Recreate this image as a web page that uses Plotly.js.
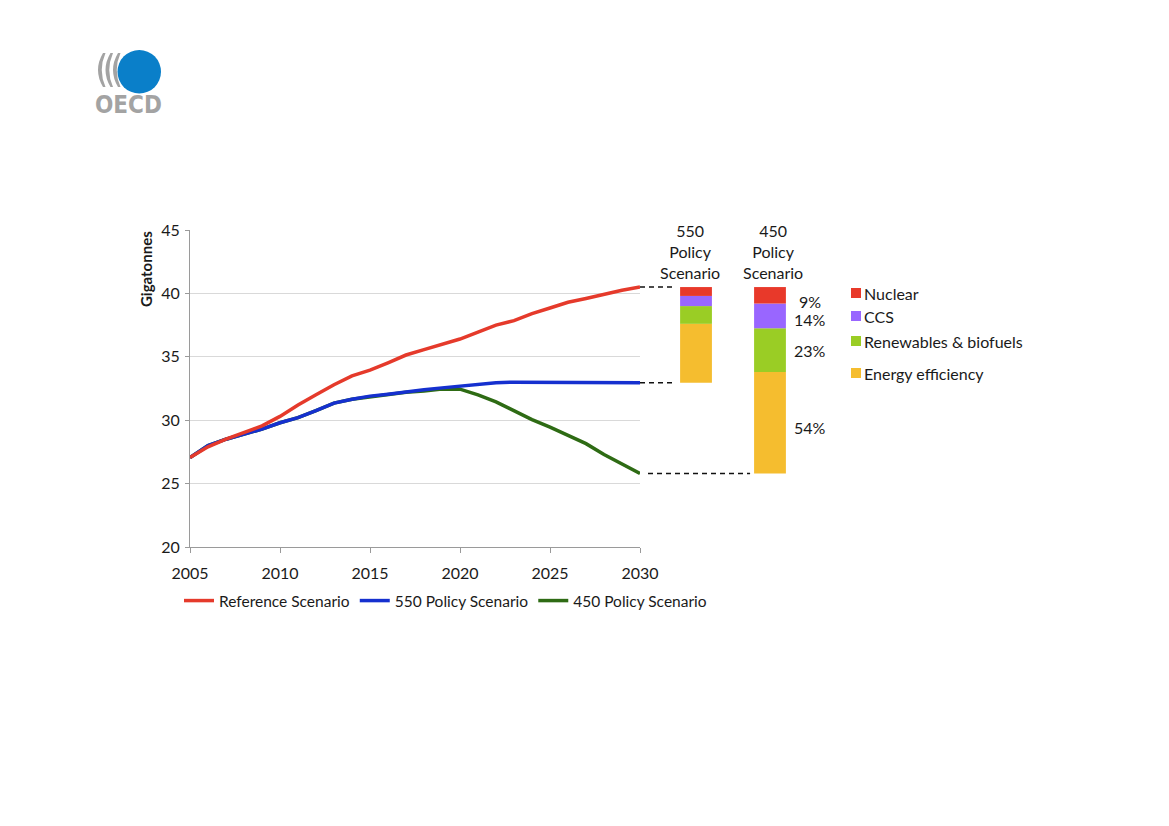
<!DOCTYPE html>
<html>
<head>
<meta charset="utf-8">
<script src="https://cdn.plot.ly/plotly-3.0.1.min.js"></script>
<style>
  html, body { margin: 0; padding: 0; background: #ffffff; }
  #chart { width: 1169px; height: 826px; }
</style>
</head>
<body>
<div id="chart"></div>
<script>
// ---------------- data ----------------
const years = [2005, 2006, 2007, 2008, 2009, 2010, 2011, 2012, 2013, 2014, 2015, 2016, 2017,
               2018, 2019, 2020, 2021, 2022, 2023, 2024, 2025, 2026, 2027, 2028, 2029, 2030];
const referenceScenario = [27.05, 27.9, 28.5, 29.0, 29.55, 30.3, 31.2, 32.0, 32.8, 33.5, 33.95, 34.53, 35.14,
                           35.57, 35.99, 36.4, 36.95, 37.5, 37.85, 38.4, 38.85, 39.3, 39.6, 39.95, 40.25, 40.5];
const policy550 = [27.05, 28.0, 28.5, 28.9, 29.3, 29.8, 30.2, 30.75, 31.35, 31.65, 31.9, 32.05, 32.25,
                   32.4, 32.55, 32.7, 32.8, 32.95, 33.0, 33.0, 33.0, 33.0, 32.95, 32.95, 32.95, 32.95];
const policy450 = [27.05, 28.0, 28.5, 28.9, 29.3, 29.8, 30.2, 30.75, 31.35, 31.65, 31.85, 32.0, 32.2,
                   32.3, 32.45, 32.45, 32.0, 31.45, 30.75, 30.05, 29.45, 28.8, 28.15, 27.3, 26.55, 25.8];
const lineNames = ["Reference Scenario", "550 Policy Scenario", "450 Policy Scenario"];

const barCategories = ["550 Policy Scenario", "450 Policy Scenario"];
const barHeaders = ["550<br>Policy<br>Scenario", "450<br>Policy<br>Scenario"];
const componentNames = ["Energy efficiency", "Renewables & biofuels", "CCS", "Nuclear"];
const energyEfficiency = [4.65, 8.0];
const renewables = [1.4, 3.45];
const ccs = [0.8, 1.95];
const nuclear = [0.7, 1.3];
const sharesOf450 = ["54%", "23%", "14%", "9%"];
const yTicks = [20, 25, 30, 35, 40, 45];
const xTicks = [2005, 2010, 2015, 2020, 2025, 2030];

// ---------------- styles ----------------
const FONT = "Lato, 'Open Sans', sans-serif";
const FS = 16;
const TXT = "#1a1a1a";
const lineColors = ["#e53a2b", "#1530cf", "#2e6b14"];
const compColors = ["#f5bd2f", "#9acd25", "#9966ff", "#e8392a"];

const W = 1169, H = 826;
const M = {l: 190, r: 339, t: 230, b: 279};
const PW = W - M.l - M.r, PH = H - M.t - M.b;
const fx = px => (px - M.l) / PW;
const fy = py => (H - M.b - py) / PH;
const mainEnd = fx(640);

// ---------------- traces ----------------
const traces = [];
// draw green, blue, red (red on top); legend reversed
[[policy450, 2], [policy550, 1], [referenceScenario, 0]].forEach(([vals, i]) => {
  traces.push({
    type: "scatter", mode: "lines", x: years, y: vals, name: lineNames[i],
    line: {color: lineColors[i], width: 3.5, shape: "linear"},
    xaxis: "x", yaxis: "y", hoverinfo: "x+y+name"
  });
});

const components = [energyEfficiency, renewables, ccs, nuclear];
const bases = [policy550[policy550.length - 1], policy450[policy450.length - 1]];
const cum = bases.slice();
const segMid = [[], []];
components.forEach((vals, k) => {
  const base = cum.slice();
  traces.push({
    type: "bar", x: barCategories, y: vals, base: base, name: componentNames[k],
    marker: {color: compColors[k], line: {width: 0}}, width: 0.43,
    xaxis: "x2", yaxis: "y2", showlegend: false, hoverinfo: "y+name"
  });
  for (let j = 0; j < 2; j++) { segMid[j].push(base[j] + vals[j] / 2); cum[j] += vals[j]; }
});

// ---------------- layout ----------------
const catRange = [-0.757, 1.811];
const catToPaper = c => mainEnd + (c - catRange[0]) / (catRange[1] - catRange[0]) * (1 - mainEnd);
const barHalf = 0.43 / 2;

const shapes = [];
const annotations = [];

// dashed connectors
const last = years.length - 1;
const dashStyle = {color: "#111", width: 1.6, dash: "5px,4px"};
shapes.push({type: "line", xref: "paper", yref: "y", x0: mainEnd, x1: catToPaper(0 - barHalf) - 5 / PW,
  y0: referenceScenario[last], y1: referenceScenario[last], line: dashStyle});
shapes.push({type: "line", xref: "paper", yref: "y", x0: mainEnd, x1: catToPaper(0 - barHalf) - 5 / PW,
  y0: policy550[last], y1: policy550[last], line: dashStyle});
shapes.push({type: "line", xref: "paper", yref: "y", x0: mainEnd + 8 / PW, x1: catToPaper(1 - barHalf) - 4 / PW,
  y0: policy450[last], y1: policy450[last], line: dashStyle});

// bar headers
const headerShift = [-6, 3];
barCategories.forEach((c, j) => {
  annotations.push({xref: "x2", yref: "y", x: c, y: 43.27, text: barHeaders[j], showarrow: false,
    xshift: headerShift[j], font: {family: FONT, size: FS, color: TXT}, align: "center", yanchor: "middle"});
});

// shares for 450 bar (components ordered bottom->top: EE, Ren, CCS, Nuc)
const shareShift = [-5, 0, -4, -6];
sharesOf450.forEach((s, k) => {
  annotations.push({xref: "x2", yref: "y", x: barCategories[1], y: segMid[1][k], text: s, showarrow: false,
    xshift: 40, yshift: shareShift[k], font: {family: FONT, size: FS, color: TXT}, xanchor: "center", yanchor: "middle"});
});

// component legend
const legendRows = [{k: 3, y: 293}, {k: 2, y: 316}, {k: 1, y: 341}, {k: 0, y: 373}];
legendRows.forEach(r => {
  shapes.push({type: "rect", xref: "paper", yref: "paper", x0: fx(851), x1: fx(861),
    y0: fy(r.y + 5), y1: fy(r.y - 5), fillcolor: compColors[r.k], line: {width: 0}});
  annotations.push({xref: "paper", yref: "paper", x: fx(862), y: fy(r.y), text: componentNames[r.k],
    showarrow: false, xanchor: "left", yanchor: "middle", font: {family: FONT, size: FS, color: TXT}});
});

// y-axis title
annotations.push({xref: "paper", yref: "paper", x: fx(146), y: fy(269), text: "<b>Gigatonnes</b>", textangle: -90,
  showarrow: false, xanchor: "center", yanchor: "middle", font: {family: FONT, size: 15, color: TXT}});

// OECD logo (decoration)
shapes.push({type: "circle", xref: "paper", yref: "paper", x0: fx(117.5), x1: fx(161), y0: fy(93.5), y1: fy(50),
  fillcolor: "#0a7fc9", line: {width: 0}});
[97, 104.5, 112].forEach(cx => {
  const p = (a, b) => fx(a).toFixed(5) + "," + fy(b).toFixed(5);
  shapes.push({type: "path", xref: "paper", yref: "paper",
    path: "M" + p(cx + 6, 53) + " Q" + p(cx - 4, 70) + " " + p(cx + 6, 87) +
          " L" + p(cx + 8.5, 87) + " Q" + p(cx + 1, 70) + " " + p(cx + 8.5, 53) + " Z",
    fillcolor: "#a3a3a3", line: {width: 0}});
});
annotations.push({xref: "paper", yref: "paper", x: fx(128.5), y: fy(105), text: "<b>OECD</b>", showarrow: false,
  xanchor: "center", yanchor: "middle", font: {family: "'Liberation Sans Narrow', 'DejaVu Sans Condensed', sans-serif", size: 24, color: "#a3a3a3"}});

const layout = {
  width: W, height: H,
  margin: {l: M.l, r: M.r, t: M.t, b: M.b, pad: 0},
  paper_bgcolor: "#ffffff", plot_bgcolor: "rgba(0,0,0,0)",
  font: {family: FONT, size: FS, color: TXT},
  showlegend: true,
  barmode: "overlay",
  legend: {orientation: "h", traceorder: "reversed", x: fx(179), xanchor: "left", y: fy(601), yanchor: "middle",
    font: {family: FONT, size: 15.5, color: TXT}, bgcolor: "rgba(0,0,0,0)", itemwidth: 30, tracegroupgap: 0},
  xaxis: {domain: [0, mainEnd], range: [2005, 2030], tickvals: xTicks, ticktext: xTicks.map(String),
    showgrid: false, zeroline: false, showline: true, linecolor: "#9a9a9a", linewidth: 1,
    ticks: "outside", ticklen: 5, tickcolor: "#9a9a9a", tickfont: {family: FONT, size: FS, color: TXT},
    anchor: "y", fixedrange: true, ticklabelstandoff: 7},
  yaxis: {domain: [0, 1], range: [20, 45], tickvals: yTicks, ticktext: yTicks.map(String),
    showgrid: true, gridcolor: "#d9d9d9", gridwidth: 1, zeroline: false, showline: true,
    linecolor: "#9a9a9a", linewidth: 1, ticks: "outside", ticklen: 4, tickcolor: "#9a9a9a",
    tickfont: {family: FONT, size: FS, color: TXT}, anchor: "x", fixedrange: true, ticklabelstandoff: 2},
  xaxis2: {domain: [mainEnd, 1], type: "category", categoryarray: barCategories, categoryorder: "array",
    range: catRange, visible: false, anchor: "y2", fixedrange: true},
  yaxis2: {domain: [0, 1], matches: "y", range: [20, 45], visible: false, showgrid: false, anchor: "x2", fixedrange: true},
  shapes: shapes,
  annotations: annotations
};

Plotly.newPlot("chart", traces, layout, {displayModeBar: false, staticPlot: true});
</script>
</body>
</html>
